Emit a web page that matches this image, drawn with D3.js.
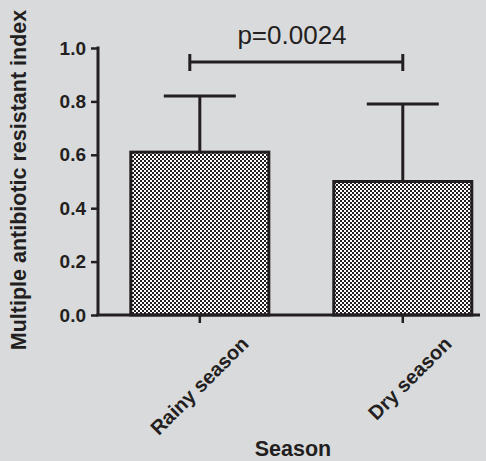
<!DOCTYPE html>
<head>
<meta charset="utf-8">
<style>
body { margin: 0; background: #d9dadc; }
svg { display: block; }
text { font-family: "Liberation Sans", Arial, sans-serif; fill: #231f20; }
</style>
</head>
<body>
<div id="bar"></div>
<script src="https://d3js.org/d3.v7.min.js"></script>
<script>
var categories = ["Rainy season", "Dry season"];
var means = [0.61, 0.50];
var upperSD = [0.82, 0.79];
var yTicks = [0.0, 0.2, 0.4, 0.6, 0.8, 1.0];
var pLabel = "p=0.0024";

var W = 486, H = 461;
var ink = "#231f20";

var svg = d3.select("#bar").append("svg")
    .attr("width", W)
    .attr("height", H);

svg.append("rect").attr("width", W).attr("height", H).attr("fill", "#d9dadc");

// checkerboard fill
var defs = svg.append("defs");
var pat = defs.append("pattern")
    .attr("id", "check")
    .attr("patternUnits", "userSpaceOnUse")
    .attr("width", 4).attr("height", 4);
pat.append("rect").attr("width", 4).attr("height", 4).attr("fill", "#ffffff");
pat.append("rect").attr("width", 2).attr("height", 2).attr("fill", ink);
pat.append("rect").attr("x", 2).attr("y", 2).attr("width", 2).attr("height", 2).attr("fill", ink);

var x = d3.scaleBand()
    .domain(categories)
    .range([98, 480])
    .paddingInner(0.32)
    .paddingOuter(0.101)
    .align(0.8);
var y = d3.scaleLinear()
    .domain([0, 1])
    .range([315, 48]);

// bars
svg.selectAll(".bar")
    .data(categories)
  .enter().append("rect")
    .attr("class", "bar")
    .attr("x", function(d) { return x(d); })
    .attr("width", x.bandwidth())
    .attr("y", function(d, i) { return y(means[i]); })
    .attr("height", function(d, i) { return y(0) - y(means[i]); })
    .attr("fill", "url(#check)")
    .attr("stroke", ink)
    .attr("stroke-width", 3);

// error bars (upper only)
var capHalf = 36;
categories.forEach(function(d, i) {
  var cx = x(d) + x.bandwidth() / 2;
  svg.append("line")
      .attr("x1", cx).attr("x2", cx)
      .attr("y1", y(means[i])).attr("y2", y(upperSD[i]))
      .attr("stroke", ink).attr("stroke-width", 3);
  svg.append("line")
      .attr("x1", cx - capHalf).attr("x2", cx + capHalf)
      .attr("y1", y(upperSD[i])).attr("y2", y(upperSD[i]))
      .attr("stroke", ink).attr("stroke-width", 3);
});

// y axis
var yAxis = svg.append("g")
    .attr("transform", "translate(98,0)")
    .call(d3.axisLeft(y).tickValues(yTicks).tickFormat(d3.format(".1f")).tickSize(7).tickSizeOuter(0));
yAxis.select(".domain").attr("stroke", ink).attr("stroke-width", 3)
    .attr("d", "M0," + (y(1) - 1.5) + "V" + y(0));
yAxis.selectAll(".tick line").attr("stroke", ink).attr("stroke-width", 2.5);
yAxis.selectAll(".tick text")
    .attr("x", -12)
    .attr("font-size", 19)
    .attr("font-weight", "bold")
    .attr("font-family", "Liberation Sans, Arial, sans-serif")
    .attr("fill", ink);

// x axis
var xAxis = svg.append("g")
    .attr("transform", "translate(0," + y(0) + ")")
    .call(d3.axisBottom(x).tickSize(8).tickSizeOuter(0));
xAxis.select(".domain").attr("stroke", ink).attr("stroke-width", 3)
    .attr("d", "M96.5,0H480");
xAxis.selectAll(".tick line").attr("stroke", ink).attr("stroke-width", 2.5);
xAxis.selectAll(".tick text")
    .attr("font-size", 20)
    .attr("font-weight", "bold")
    .attr("font-family", "Liberation Sans, Arial, sans-serif")
    .attr("fill", ink)
    .attr("text-anchor", "end")
    .attr("dy", 0)
    .attr("transform", "translate(50,30) rotate(-45)")
    .attr("x", 0).attr("y", 0);

// significance bracket
var x0 = x(categories[0]) + x.bandwidth() / 2 - 10;
var x1 = x(categories[1]) + x.bandwidth() / 2;
var py = 62;
svg.append("line").attr("x1", x0).attr("x2", x1).attr("y1", py).attr("y2", py)
    .attr("stroke", ink).attr("stroke-width", 3);
[x0, x1].forEach(function(v) {
  svg.append("line").attr("x1", v).attr("x2", v).attr("y1", py - 8).attr("y2", py + 9)
      .attr("stroke", ink).attr("stroke-width", 3);
});
svg.append("text")
    .attr("x", 292)
    .attr("y", 44)
    .attr("text-anchor", "middle")
    .attr("font-size", 26)
    .text(pLabel);

// axis titles
svg.append("text")
    .attr("text-anchor", "middle")
    .attr("transform", "translate(26,180)rotate(-90)")
    .attr("font-size", 21.5)
    .attr("font-weight", "bold")
    .text("Multiple antibiotic resistant index");
svg.append("text")
    .attr("text-anchor", "middle")
    .attr("x", 293)
    .attr("y", 456)
    .attr("font-size", 21.5)
    .attr("font-weight", "bold")
    .text("Season");
</script>
</body>
</html>
